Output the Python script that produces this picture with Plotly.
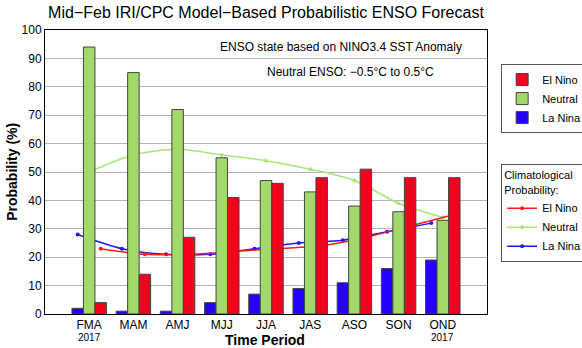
import plotly.graph_objects as go

periods = ["FMA", "MAM", "AMJ", "MJJ", "JJA", "JAS", "ASO", "SON", "OND"]
la_nina = [2, 1, 1, 4, 7, 9, 11, 16, 19]
neutral = [94, 85, 72, 55, 47, 43, 38, 36, 33]
el_nino = [4, 14, 27, 41, 46, 48, 51, 48, 48]

clim_la_nina = [28, 23, 21, 21, 23, 25, 26, 29, 32]
clim_neutral = [50, 56, 58, 56, 54, 51, 47, 39, 34]
clim_el_nino = [23, 21, 21, 22, 23, 24, 27, 31, 35]

y_ticks = list(range(0, 101, 10))

RED = "#f2001e"
GREEN = "#a3d96b"
BLUE = "#2400ff"
LRED = "#ff1a1a"
LGREEN = "#a8e67a"
LBLUE = "#1a1aff"
FONT = "Liberation Sans, Arial, sans-serif"

idx = list(range(len(periods)))
off = 0.26

fig = go.Figure()

# climatology lines (base axes, drawn beneath bars)
for name, vals, col, o in [("La Nina", clim_la_nina, LBLUE, -off),
                           ("Neutral", clim_neutral, LGREEN, 0.0),
                           ("El Nino", clim_el_nino, LRED, off)]:
    fig.add_trace(go.Scatter(
        x=[i + o for i in idx], y=vals, name=name, mode="lines+markers",
        line=dict(color=col, width=1.5, shape="spline", smoothing=0.8),
        marker=dict(color=col, size=4), legend="legend2",
        xaxis="x", yaxis="y"))

# bars on overlaying axes (drawn on top)
for name, vals, col in [("La Nina", la_nina, BLUE),
                        ("Neutral", neutral, GREEN),
                        ("El Nino", el_nino, RED)]:
    fig.add_trace(go.Bar(
        x=idx, y=vals, name=name, marker=dict(color=col, line=dict(color="#444444", width=1)),
        legend="legend", xaxis="x2", yaxis="y2"))

annotations = [
    dict(text="ENSO state based on NINO3.4 SST Anomaly", x=0.67, y=0.94, xref="paper", yref="paper",
         xanchor="center", yanchor="middle",
         showarrow=False, font=dict(size=12, color="black", family=FONT)),
    dict(text="Neutral ENSO: \u22120.5\u00b0C to 0.5\u00b0C", x=0.692, y=0.852, xref="paper", yref="paper",
         xanchor="center", yanchor="middle",
         showarrow=False, font=dict(size=12, color="black", family=FONT)),
    dict(text="<b>Time Period</b>", x=0.497, y=-0.093, xref="paper", yref="paper",
         xanchor="center", yanchor="middle",
         showarrow=False, font=dict(size=14, color="black", family=FONT)),
    dict(text="<b>Probability (%)</b>", x=-0.075, y=0.5, xref="paper", yref="paper", textangle=-90,
         xanchor="center", yanchor="middle",
         showarrow=False, font=dict(size=14, color="black", family=FONT)),
]
for i in (0, len(periods) - 1):
    annotations.append(dict(text="2017", x=i, xref="x", y=-0.081, yref="paper",
                            xanchor="center", yanchor="middle",
                            showarrow=False, font=dict(size=10, color="black", family=FONT)))

fig.update_layout(
    width=582, height=348,
    margin=dict(l=45, r=95, t=30, b=34, autoexpand=False),
    paper_bgcolor="white", plot_bgcolor="white",
    font=dict(family=FONT, size=12, color="black"),
    title=dict(text="Mid\u2212Feb IRI/CPC Model\u2212Based Probabilistic ENSO Forecast",
               x=0.457, xanchor="center", y=0.965, yanchor="middle",
               font=dict(size=16, family=FONT, color="black")),
    barmode="group", bargap=0.22, bargroupgap=0,
    xaxis=dict(range=[-1, 9], tickvals=idx, ticktext=periods, showgrid=False,
               showline=True, linecolor="black", linewidth=1, mirror=True, ticks="",
               tickfont=dict(size=12, family=FONT), automargin=False, zeroline=False),
    yaxis=dict(range=[0, 100], tickvals=y_ticks, showgrid=True, gridcolor="#b4b4b4", gridwidth=1,
               showline=True, linecolor="black", linewidth=1, mirror=True, ticks="",
               tickfont=dict(size=12, family=FONT), automargin=False, zeroline=False),
    xaxis2=dict(range=[-1, 9], overlaying="x", visible=False, matches="x"),
    yaxis2=dict(range=[0, 100], overlaying="y", visible=False, matches="y"),
    legend=dict(x=1.032, y=0.88, xanchor="left", yanchor="top", traceorder="reversed",
                bordercolor="#555555", borderwidth=1, bgcolor="white",
                font=dict(size=11, family=FONT), itemwidth=30),
    legend2=dict(x=1.032, y=0.528, xanchor="left", yanchor="top", traceorder="reversed",
                 bordercolor="#555555", borderwidth=1, bgcolor="white",
                 title=dict(text="Climatological<br>Probability:", font=dict(size=11, family=FONT)),
                 font=dict(size=11, family=FONT), itemwidth=30),
    annotations=annotations,
)

fig.write_html("out.html")
